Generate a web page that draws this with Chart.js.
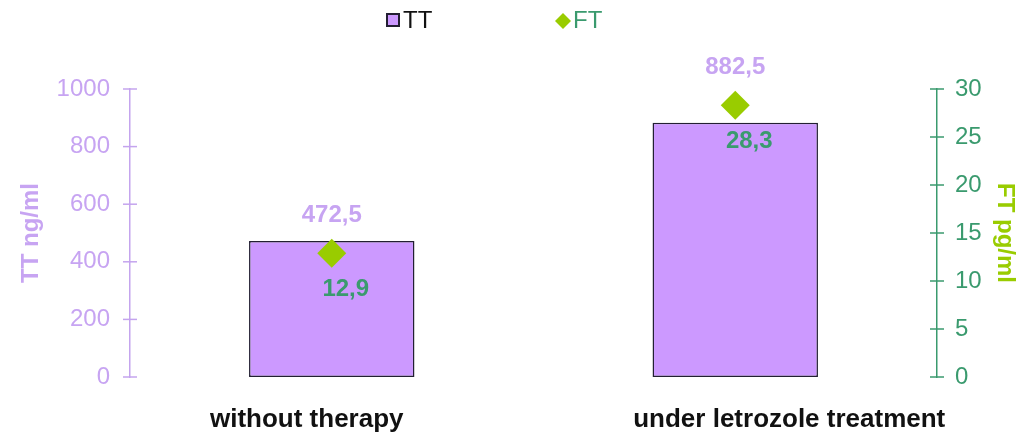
<!DOCTYPE html>
<html><head><meta charset="utf-8">
<script src="https://cdn.jsdelivr.net/npm/chart.js@4"></script>
<style>html,body{margin:0;padding:0;background:#fff}#wrap{width:1026px;height:440px}</style>
</head><body><div id="wrap"><canvas id="c"></canvas></div>
<script>
const categories = ["without therapy", "under letrozole treatment"];
const ttValues = [472.5, 882.5];
const ftValues = [12.9, 28.3];
const ttTicks = [0, 200, 400, 600, 800, 1000];
const ftTicks = [0, 5, 10, 15, 20, 25, 30];

const LAV = '#cc99ff', LAVTXT = '#c7a4f2', AXLAV = '#c4a4ee', GREEN = '#3a9a6e', LIME = '#99cc00', EDGE = '#231f33';
const FONT = '"Liberation Sans", Arial, sans-serif';
const fmt = v => v.toFixed(1).replace('.', ',');

const decor = {
  id: 'decor',
  afterDatasetsDraw(chart) {
    const ctx = chart.ctx;
    const x = chart.scales.x, y = chart.scales.y, y2 = chart.scales.y2;
    ctx.save();
    // axis cross ticks
    ctx.lineWidth = 1.5;
    ctx.strokeStyle = AXLAV;
    ttTicks.forEach(v => { const p = y.getPixelForValue(v); ctx.beginPath(); ctx.moveTo(y.right - 7, p); ctx.lineTo(y.right + 7, p); ctx.stroke(); });
    ctx.strokeStyle = GREEN;
    ftTicks.forEach(v => { const p = y2.getPixelForValue(v); ctx.beginPath(); ctx.moveTo(y2.left - 7, p); ctx.lineTo(y2.left + 7, p); ctx.stroke(); });
    // category labels (slightly shifted like the original)
    const catShift = [-25, 54];
    ctx.font = 'bold 26px ' + FONT;
    ctx.textAlign = 'center'; ctx.textBaseline = 'middle';
    ctx.fillStyle = '#111';
    categories.forEach((c, i) => ctx.fillText(c, x.getPixelForValue(i) + catShift[i], chart.chartArea.bottom + 43));
    // value labels
    ctx.font = 'bold 24px ' + FONT;
    const bars = chart.getDatasetMeta(0).data, pts = chart.getDatasetMeta(1).data;
    bars.forEach((b, i) => {
      const top = Math.min(b.y, pts[i].y - 14);
      ctx.fillStyle = LAVTXT;
      ctx.fillText(fmt(ttValues[i]), b.x, top - 24);
      ctx.fillStyle = GREEN;
      ctx.fillText(fmt(ftValues[i]), pts[i].x + 14, pts[i].y + 36);
    });
    // legend
    const cx = chart.width / 2;
    ctx.font = '24px ' + FONT;
    ctx.textAlign = 'left';
    ctx.fillStyle = LAV; ctx.strokeStyle = EDGE; ctx.lineWidth = 2;
    ctx.fillRect(cx - 126, 14, 12, 12); ctx.strokeRect(cx - 126, 14, 12, 12);
    ctx.fillStyle = '#111'; ctx.fillText('TT', cx - 110, 21);
    ctx.fillStyle = LIME;
    ctx.beginPath(); ctx.moveTo(cx + 50, 13); ctx.lineTo(cx + 58, 21); ctx.lineTo(cx + 50, 29); ctx.lineTo(cx + 42, 21); ctx.closePath(); ctx.fill();
    ctx.fillStyle = GREEN; ctx.fillText('FT', cx + 60, 21);
    ctx.restore();
  }
};

new Chart(document.getElementById('c'), {
  data: {
    labels: categories,
    datasets: [
      { type: 'bar', label: 'TT', data: ttValues, yAxisID: 'y', backgroundColor: LAV, borderColor: EDGE, borderWidth: 1.5, borderSkipped: false, categoryPercentage: 1, barPercentage: 0.41, order: 2 },
      { type: 'line', label: 'FT', data: ftValues, yAxisID: 'y2', showLine: false, pointStyle: 'rectRot', pointRadius: 14.5, pointHoverRadius: 14.5, backgroundColor: LIME, borderColor: LIME, borderWidth: 0, order: 1 }
    ]
  },
  options: {
    responsive: true, maintainAspectRatio: false, animation: false,
    layout: { padding: { left: 0, right: 0, top: 89, bottom: 0 } },
    plugins: { tooltip: { enabled: false }, legend: { display: false } },
    scales: {
      x: {
        grid: { display: false }, border: { display: false },
        afterFit: s => { s.height = 63; },
        ticks: { display: false }
      },
      y: {
        position: 'left', min: 0, max: 1000,
        afterBuildTicks: s => { s.ticks = ttTicks.map(v => ({ value: v })); },
        afterFit: s => { s.width = 130; },
        grid: { display: false }, border: { display: true, color: AXLAV, width: 1.5 },
        ticks: { color: LAVTXT, font: { family: FONT, size: 24 }, padding: 12, callback: v => String(v) },
        title: { display: true, text: 'TT ng/ml', color: LAVTXT, font: { family: FONT, size: 24, weight: 'bold' }, padding: { top: 17, bottom: 0 } }
      },
      y2: {
        position: 'right', min: 0, max: 30,
        afterBuildTicks: s => { s.ticks = ftTicks.map(v => ({ value: v })); },
        afterFit: s => { s.width = 89; },
        grid: { display: false }, border: { display: true, color: GREEN, width: 1.5 },
        ticks: { color: GREEN, font: { family: FONT, size: 24 }, padding: 10, callback: v => String(v) },
        title: { display: true, text: 'FT pg/ml', color: LIME, font: { family: FONT, size: 24, weight: 'bold' }, padding: { top: 7, bottom: 0 } }
      }
    }
  },
  plugins: [decor]
});
</script></body></html>
